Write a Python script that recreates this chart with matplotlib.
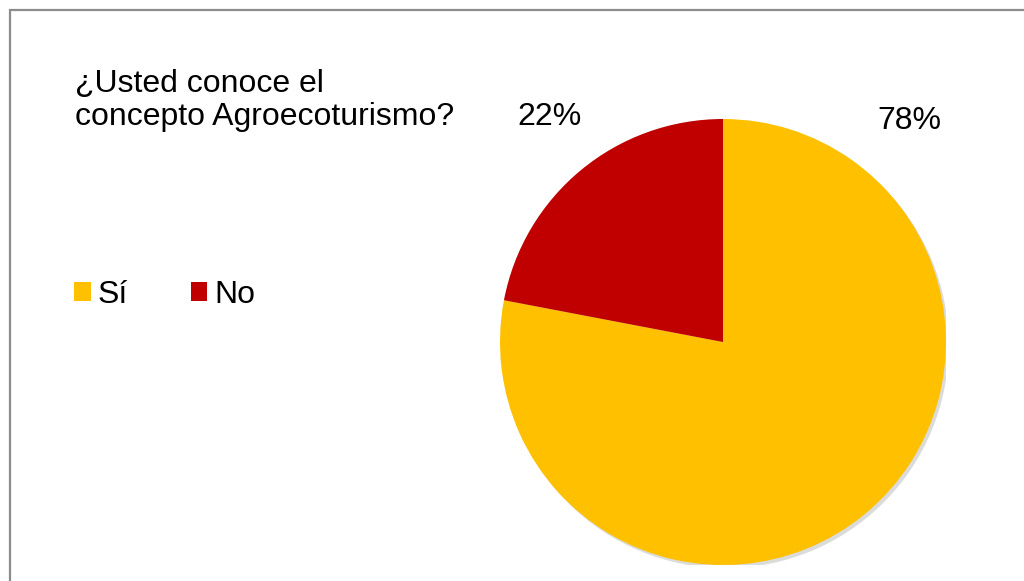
import matplotlib.pyplot as plt
from matplotlib.patches import Rectangle, Circle

plt.rcParams['font.family'] = ['Liberation Sans', 'DejaVu Sans']

# data
categories = ['Sí', 'No']
values = [78, 22]
colors = ['#FFC000', '#C00000']
title = '¿Usted conoce el\nconcepto Agroecoturismo?'

W, H = 1024, 581
fig = plt.figure(figsize=(W / 100, H / 100), dpi=100)

# grey frame (only top/left edges visible)
fig.patches.append(Rectangle((10 / W, -0.1), 1.2, (H - 10) / H + 0.1,
                             transform=fig.transFigure, fill=False,
                             edgecolor='#8c8c8c', lw=1.6))

# pie axes: centre (723, 342), radius 223 px
cx, cy, r = 723, 342, 223
ax = fig.add_axes([(cx - r) / W, (H - cy - r) / H, 2 * r / W, 2 * r / H])
# soft shadow under the pie
ax.add_patch(Circle((0.012, -0.014), 1.0, color='#9a9a9a', alpha=0.35,
                    lw=0, zorder=0))
wedges, _ = ax.pie(values, colors=colors, startangle=90, counterclock=False,
                   radius=1, wedgeprops=dict(linewidth=0))
ax.set_xlim(-1, 1)
ax.set_ylim(-1, 1)
ax.set_aspect('equal')
ax.axis('off')

# percentage labels (placed like the original)
ax.text(0.834, 0.99, f'{values[0]}%', fontsize=23, ha='center', va='center')
ax.text(-0.78, 1.01, f'{values[1]}%', fontsize=23, ha='center', va='center')

# title
fig.text(75 / W, 1 - 125 / H, title, fontsize=23, ha='left', va='baseline',
         linespacing=1.12)

# legend
leg = fig.legend(wedges, categories, loc='center left',
                 bbox_to_anchor=(74 / W, 1 - 295 / H), ncol=2, frameon=False,
                 fontsize=23, handlelength=0.53, handleheight=0.53,
                 handletextpad=0.22, columnspacing=1.95,
                 borderpad=0, borderaxespad=0)

fig.savefig('out.png', dpi=100)
